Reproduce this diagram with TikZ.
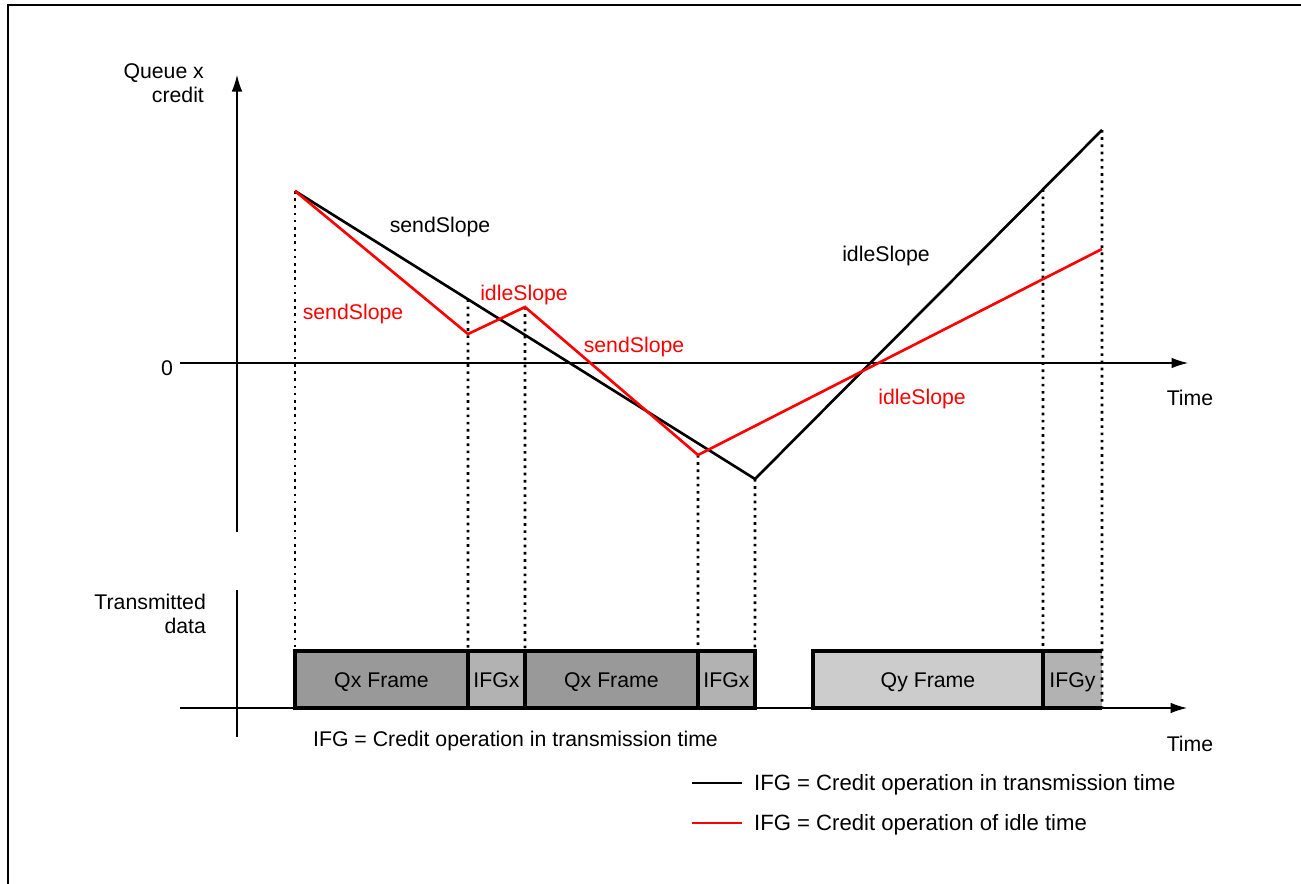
\documentclass[tikz,border=0pt]{standalone}
\usepackage{fontspec}
\setmainfont{Liberation Sans}
\usetikzlibrary{arrows.meta,positioning}

\begin{document}
\begin{tikzpicture}[
    x=0.02cm, y=-0.02cm,
    font=\fontsize{12.1}{13.8}\selectfont,
    axis/.style={line width=0.6pt, -{Latex[length=0.33cm, width=0.21cm]}},
    guide/.style={line width=1.5pt, dash pattern=on 1.5pt off 2.6pt},
    credit/.style={line width=1.5pt, line join=miter},
    pkt/.style={line width=1.8pt, anchor=south west, minimum height=1.14cm, inner sep=1pt, outer sep=0pt,
      text height=1.2em, text depth=0.25em},
    lbl/.style={inner sep=1pt}
  ]
    \useasboundingbox (0,0) rectangle (1301,883);
    \draw[line width=1.7pt] (8,890) -- (8,5) -- (1310,5);

    \coordinate (s) at (295,191);
    \coordinate (b1) at (468,299.3);
    \coordinate (bmin) at (755,479);
    \coordinate (b5) at (1043,189.3);
    \coordinate (bend) at (1102,130);
    \coordinate (r1) at (468,334);
    \coordinate (r2) at (525,307);
    \coordinate (r3) at (698,455);
    \coordinate (rend) at (1102,249);

    \draw[axis] (237,532) -- (237,75);
    \draw[axis] (180,363) -- (1188,363);
    \draw[line width=0.6pt] (237,590) -- (237,737);
    \draw[axis] (180,708) -- (1187,708);

    \node[lbl, align=right, anchor=east] (qlab) at (206,83) {Queue x\\credit};
    \node[lbl] (zero) at (167,368) {0};
    \node[lbl] (time1) at (1190,398) {Time};
    \node[lbl, align=right, anchor=east] (tlab) at (208,614) {Transmitted\\data};
    \node[lbl] (time2) at (1190,744) {Time};

    \node[pkt, draw, fill=black!40, minimum width=3.46cm] (qx1) at (295,708) {Qx Frame};
    \node[pkt, draw, fill=black!30, minimum width=1.14cm] (ifgx1) at (qx1.south east) {IFGx};
    \node[pkt, draw, fill=black!40, minimum width=3.46cm] (qx2) at (ifgx1.south east) {Qx Frame};
    \node[pkt, draw, fill=black!30, minimum width=1.14cm] (ifgx2) at (qx2.south east) {IFGx};
    \node[pkt, draw, fill=black!20, minimum width=4.6cm] (qy) at (813,708) {Qy Frame};
    \node[pkt, fill=black!30, minimum width=1.18cm] (ifgy) at (qy.south east) {IFGy};
    \draw[line width=1.8pt] (ifgy.north east) -- (ifgy.north west) -- (ifgy.south west) -- (ifgy.south east);

    \draw[guide] (s) -- (qx1.north west);
    \draw[guide] (b1) -- (ifgx1.north west);
    \draw[guide] (r2) -- (qx2.north west);
    \draw[guide] (r3) -- (ifgx2.north west);
    \draw[guide] (bmin) -- (ifgx2.north east);
    \draw[guide] (b5) -- (ifgy.north west);
    \draw[guide] (bend) -- (ifgy.south east);

    \draw[credit] (s) -- (bmin) -- (bend);
    \draw[credit, red] (s) -- (r1) -- (r2) -- (r3) -- (rend);

    \node[lbl] (send1) at (440,227) {sendSlope};
    \node[lbl, text=red] (send2) at (353,314) {sendSlope};
    \node[lbl, text=red] (idle1) at (524,295) {idleSlope};
    \node[lbl, text=red] (send3) at (634,347) {sendSlope};
    \node[lbl] (idle2) at (886,256) {idleSlope};
    \node[lbl, text=red] (idle3) at (922,399) {idleSlope};

    \node[lbl] (note) at (515.5,741) {IFG = Credit operation in transmission time};

    \node[lbl, anchor=west, font=\fontsize{12.6}{14}\selectfont] (leg1) at (752,785) {IFG = Credit operation in transmission time};
    \node[lbl, anchor=west, font=\fontsize{12.6}{14}\selectfont] (leg2) at (752,825) {IFG = Credit operation of idle time};
    \coordinate (l1a) at (692,783);
    \coordinate (l1b) at (742,783);
    \coordinate (l2a) at (692,823);
    \coordinate (l2b) at (742,823);
    \draw[line width=1.3pt] (l1a) -- (l1b);
    \draw[line width=1.3pt, red] (l2a) -- (l2b);
  \end{tikzpicture}
\end{document}
